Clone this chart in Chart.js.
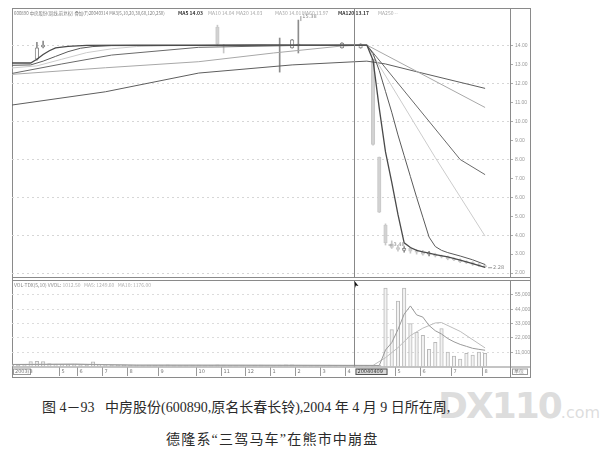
<!DOCTYPE html>
<html>
<head>
<meta charset="utf-8">
<script src="https://cdn.jsdelivr.net/npm/chart.js@4/dist/chart.umd.min.js"></script>
<style>
  body { margin: 0; background: #fff; width: 610px; height: 450px; position: relative; overflow: hidden; font-family: "Noto Sans CJK SC", sans-serif; }
  #frame { position: absolute; left: 12px; top: 8px; width: 519px; height: 370px; border: 1px solid #8a8a8a; box-sizing: border-box; }
  .pane { position: absolute; left: 12px; width: 518px; }
  #pricePane { top: 8px; height: 270px; }
  #volPane { top: 280px; height: 97px; }
  .hd { position: absolute; font-size: 5px; white-space: nowrap; color: #a8a8a8; line-height: 6px; transform-origin: left top; }
  .hd b { color: #333; font-weight: bold; }
  .cap { position: absolute; white-space: nowrap; color: #2a2a2a; font-family: "Liberation Serif", "Noto Sans CJK SC", serif; font-size: 14px; }
  #wm { position: absolute; left: 438px; top: 385px; color: rgba(215,215,215,0.85); font-family: "DejaVu Sans", sans-serif; white-space: nowrap; }
</style>
</head>
<body>
<div id="frame"></div>
<div class="pane" id="pricePane"><canvas id="priceChart"></canvas></div>
<div class="pane" id="volPane"><canvas id="volChart"></canvas></div>

<div class="hd" style="left:14px;top:10px;color:#808080;transform:scaleX(0.88)">600890 中房股份(周线,前复权) 叠加(F)20040314 MA3(5,10,20,30,60,120,250)</div>
<div class="hd" style="left:178px;top:10px"><b>MA5 14.03</b></div>
<div class="hd" style="left:208px;top:10px">MA10 14.04</div>
<div class="hd" style="left:236px;top:10px">MA20 14.03</div>
<div class="hd" style="left:275px;top:10px">MA30 14.01</div>
<div class="hd" style="left:302px;top:10px">MA60 13.97</div>
<div class="hd" style="left:338px;top:10px"><b>MA120 13.17</b></div>
<div class="hd" style="left:378px;top:10px">MA250 --</div>
<div class="hd" style="left:14px;top:282px;color:#888">VOL-TDX(5,10) VVOL: <span style="color:#b0b0b0">1012.50</span> &nbsp; <span style="color:#b0b0b0">MA5: 1249.60</span> &nbsp; <span style="color:#b0b0b0">MA10: 1176.00</span></div>

<div id="wm"><span style="font-size:36px;font-weight:bold;letter-spacing:-2px">DX110</span><span style="font-size:16px">.com</span></div>
<div class="cap" style="left:42px;top:396px">图 4－93&nbsp;&nbsp;&nbsp;中房股份(600890,原名长春长铃),2004 年 4 月 9 日所在周,</div>
<div class="cap" style="left:166px;top:428px;letter-spacing:1.2px">德隆系“三驾马车”在熊市中崩盘</div>

<script>
// ---- data (x = week slot, 0..80) ----
const slotCount = 80;
const cursorIndex = 55;
const cursorLabel = '20040409';
const monthIdx = [0, 8, 11, 15, 19, 24, 30, 34, 38, 42, 46, 50, 54, 62, 66, 71, 76];
const monthText = ['2003/3', '5', '6', '7', '8', '9', '10', '11', '12', '1', '2', '3', '4', '5', '6', '7', '8'];
const priceTicks = [14, 13, 12, 11, 10, 9, 8, 7, 6, 5, 4, 3, 2];
const volTicks = [11000, 22000, 33000, 44000, 55000];

// moving averages as [week, value]
const ma5 = [[0,13.1],[3,13.1],[4,13.3],[5,13.55],[6,13.75],[7,13.9],[9,13.98],[12,14.03],[20,14.05],[30,14.04],[40,14.06],[50,14.05],[57,14.05],[58,13.25],[59,10.7],[60,8.4],[61,6.8],[62,5.1],[63,3.6],[64,3.35],[65,3.2],[66,3.12],[67,3.05],[68,2.97],[70,2.85],[72,2.68],[74,2.5],[76,2.3]];
const ma10 = [[0,12.98],[3,13.0],[5,13.2],[7,13.45],[9,13.7],[11,13.88],[13,13.97],[16,14.02],[57,14.04],[58,13.6],[59,12.7],[60,11.6],[61,10.5],[62,9.3],[63,8.2],[64,7.1],[65,6.0],[66,4.95],[67,3.9],[68,3.4],[69,3.2],[70,3.08],[72,2.9],[74,2.7],[76,2.45]];
const ma20 = [[0,12.84],[4,12.95],[8,13.3],[12,13.65],[16,13.85],[20,13.97],[25,14.02],[57,14.05],[68,8.1],[76,3.95]];
const ma30 = [[0,12.55],[8,13.05],[16,13.52],[30,13.93],[46,14.03],[57,14.05],[72,8.0],[76,7.2]];
const ma60 = [[0,12.5],[15,12.85],[30,13.17],[42,13.63],[53,14.0],[57,14.05],[76,10.75]];
const ma120 = [[0,10.88],[15,11.58],[30,12.57],[45,13.0],[57,13.2],[60,13.05],[65,12.64],[76,11.76]];

// candles: [week, open, high, low, close]
const candles = [
  [4,13.3,14.2,13.25,13.9],[5,13.95,14.26,13.9,14.05],[33,15.0,15.1,14.0,14.1],[34,14.05,14.08,13.63,14.0],
  [43,14.0,14.42,12.62,14.05],[45,13.9,14.35,13.88,14.32],[46,14.0,15.37,13.63,14.1],[53,13.9,14.18,13.88,14.16],
  [56,13.9,14.12,13.88,14.1],[58,13.3,13.3,8.76,8.8],[59,8.13,8.13,5.2,5.22],[60,4.54,4.6,3.48,3.6],
  [61,3.55,3.7,3.3,3.35],[62,3.35,3.45,3.15,3.25],[63,3.2,3.4,3.1,3.3],[64,3.3,3.35,3.05,3.15],[65,3.15,3.25,3.0,3.1],
  [66,3.1,3.2,2.95,3.0],[67,3.0,3.15,2.9,3.05],[68,3.0,3.05,2.85,2.9],[69,2.9,2.95,2.8,2.85],[70,2.85,2.9,2.7,2.75],
  [71,2.75,2.8,2.65,2.7],[72,2.7,2.75,2.55,2.6],[73,2.6,2.65,2.5,2.55],[74,2.55,2.6,2.4,2.45],[75,2.45,2.5,2.35,2.4],[76,2.4,2.45,2.28,2.32]
];
const priceMarks = [[46, 15.37, '15.38'], [60, 3.48, '3.48'], [76, 2.28, '2.28']];

// weekly volume, weeks 0..76
const volume = [
  900,1200,1500,3800,3900,3700,2200,1800,1600,1400,1500,1300,1200,3600,1600,1300,1100,1000,1200,900,
  1000,800,1100,900,1000,1200,800,700,900,1000,1100,800,900,1300,1000,900,800,1000,700,900,
  1000,800,900,1100,1300,1200,1000,900,800,700,900,1000,800,900,900,1000,800,700,600,900,
  60300,28400,50400,60300,33000,26200,23900,13300,18600,29200,11000,8000,5700,10200,8700,11000,10200
];
const volMa5 = [[0,1500],[10,1700],[20,1000],[40,950],[58,800],[59,750],[60,12700],[61,18300],[62,28400],[63,40300],[64,46600],[65,39700],[66,38000],[67,31500],[68,27500],[69,25000],[70,21500],[71,19000],[72,17000],[73,15500],[74,14000],[75,13200],[76,12500]];
const volMa10 = [[0,1600],[10,1900],[20,1100],[40,950],[58,850],[60,6800],[62,14500],[64,23800],[66,29500],[68,33500],[69,33800],[72,27000],[76,14300]];

// ---- charts ----
const pts = arr => arr.map(p => ({x: p[0], y: p[1]}));
const upCol = '#8c8c8c', downCol = '#d2d2d2';

function line(ctx, x1, y1, x2, y2) {
  ctx.beginPath(); ctx.moveTo(x1, y1); ctx.lineTo(x2, y2); ctx.stroke();
}

function maSet(data, color, width) {
  return {type: 'line', data: pts(data), borderColor: color, borderWidth: width,
          pointRadius: 0, tension: 0, order: 0};
}

function fixAxis(s) {
  s.width = 20; s.paddingTop = 0; s.paddingBottom = 0;
}

const priceFrame = {
  id: 'priceFrame',
  afterDraw(chart) {
    const {ctx, chartArea: a, scales: {x, y}} = chart;
    ctx.save();
    ctx.lineWidth = 1;
    ctx.strokeStyle = '#8a8a8a';
    line(ctx, a.right + 0.5, 0, a.right + 0.5, chart.height);
    line(ctx, 0, chart.height - 0.5, chart.width, chart.height - 0.5);
    ctx.strokeStyle = '#888';
    const cx = Math.round(x.getPixelForValue(cursorIndex)) + 0.5;
    line(ctx, cx, 0, cx, chart.height);
    ctx.font = '5px "DejaVu Sans"';
    ctx.fillStyle = '#888';
    ctx.strokeStyle = '#999';
    ctx.textBaseline = 'middle';
    priceMarks.forEach(([w, v, t], k) => {
      const px = x.getPixelForValue(w), py = y.getPixelForValue(v);
      ctx.textAlign = 'left';
      if (k === 0) {
        line(ctx, px + 2.5, py - 4, px + 2.5, py + 1);
        ctx.fillText(t, px + 4, py - 3);
      } else {
        line(ctx, px + 3, py, px + 7, py);
        ctx.fillText(t, px + 8, py);
      }
    });
    ctx.restore();
  }
};

const volFrame = {
  id: 'volFrame',
  afterDraw(chart) {
    const {ctx, chartArea: a, scales: {x}} = chart;
    const bot = chart.height;
    ctx.save();
    ctx.lineWidth = 1;
    ctx.strokeStyle = '#8a8a8a';
    line(ctx, 0, 0.5, chart.width, 0.5);
    line(ctx, a.right + 0.5, 0, a.right + 0.5, bot);
    line(ctx, 0, a.bottom + 0.5, chart.width, a.bottom + 0.5);
    const cx = Math.round(x.getPixelForValue(cursorIndex)) + 0.5;
    ctx.strokeStyle = '#888';
    line(ctx, cx, 0, cx, a.bottom);
    // mouse pointer
    ctx.fillStyle = '#111';
    ctx.beginPath(); ctx.moveTo(cx, 1); ctx.lineTo(cx + 4, 6); ctx.lineTo(cx + 1.5, 5.5); ctx.lineTo(cx + 1, 8); ctx.closePath(); ctx.fill();
    // date strip
    ctx.font = '5px "DejaVu Sans"';
    ctx.textBaseline = 'middle';
    ctx.textAlign = 'left';
    const ty = (a.bottom + bot) / 2;
    ctx.strokeStyle = '#999';
    monthIdx.forEach((m, k) => {
      ctx.fillStyle = '#777';
      if (m === 0) {
        ctx.strokeRect(1.5, a.bottom + 2.5, 17, bot - a.bottom - 5);
        ctx.fillText(monthText[k], 3, ty);
        return;
      }
      const px = Math.round(x.getPixelForValue(m - 0.5)) + 0.5;
      line(ctx, px, a.bottom + 1, px, bot - 1);
      ctx.fillText(monthText[k], px + 2, ty);
    });
    const bx = cx + 1;
    ctx.fillStyle = '#dadada';
    ctx.fillRect(bx, a.bottom + 2, 32, bot - a.bottom - 4);
    ctx.strokeStyle = '#555';
    ctx.strokeRect(bx + 0.5, a.bottom + 2.5, 31, bot - a.bottom - 5);
    ctx.fillStyle = '#333';
    ctx.fillText(cursorLabel, bx + 2, ty);
    ctx.strokeStyle = '#999';
    ctx.strokeRect(a.right + 2.5, a.bottom + 2.5, 15, bot - a.bottom - 5);
    ctx.fillStyle = '#777';
    ctx.fillText('单位', a.right + 4, ty);
    ctx.restore();
  }
};

const bodyData = candles.map(c => ({x: c[0], y: [c[1], c[4]]}));
const wickData = candles.map(c => ({x: c[0], y: [c[3], c[2]]}));
const candleFill = candles.map(c => c[4] >= c[1] ? '#fff' : downCol);
const candleEdge = candles.map(c => c[4] >= c[1] ? upCol : '#c8c8c8');

new Chart(document.getElementById('priceChart'), {
  type: 'bar',
  data: {
    datasets: [
      maSet(ma5, '#4a4a4a', 1.3),
      maSet(ma10, '#5a5a5a', 1),
      maSet(ma20, '#cccccc', 1),
      maSet(ma30, '#6a6a6a', 1),
      maSet(ma60, '#a8a8a8', 1),
      maSet(ma120, '#5e5e5e', 1),
      {type: 'bar', data: wickData, backgroundColor: candleEdge, borderWidth: 0, barThickness: 1, grouped: false, order: 6},
      {type: 'bar', data: bodyData, backgroundColor: candleFill, borderColor: candleEdge, borderWidth: 1,
       borderSkipped: false, barThickness: 3.5, grouped: false, order: 5}
    ]
  },
  options: {
    responsive: true, maintainAspectRatio: false, animation: false,
    layout: {padding: 0, autoPadding: false},
    plugins: {legend: {display: false}, tooltip: {enabled: false}},
    scales: {
      x: {type: 'linear', min: 0, max: slotCount, display: false, offset: false},
      y: {
        position: 'right', min: 1.738, max: 16.008,
        afterBuildTicks: s => { s.ticks = priceTicks.map(v => ({value: v})); },
        afterFit: fixAxis,
        border: {display: false, dash: [2, 3]},
        grid: {color: c => (c.tick && c.tick.value % 2 === 0) ? '#d6d6d6' : 'rgba(0,0,0,0)', tickColor: '#aaa', tickLength: 3},
        ticks: {font: {size: 5}, color: '#999', padding: 2, callback: v => v.toFixed(2)}
      }
    }
  },
  plugins: [priceFrame]
});

new Chart(document.getElementById('volChart'), {
  type: 'bar',
  data: {
    datasets: [
      {type: 'line', data: pts(volMa5), borderColor: '#9a9a9a', borderWidth: 1, pointRadius: 0, order: 0},
      {type: 'line', data: pts(volMa10), borderColor: '#bdbdbd', borderWidth: 1, pointRadius: 0, order: 0},
      {type: 'bar', data: volume.map((v, i) => ({x: i, y: v})), backgroundColor: '#f2f2f2', borderColor: '#b8b8b8',
       borderWidth: 1, barThickness: 3.5, grouped: false, order: 5}
    ]
  },
  options: {
    responsive: true, maintainAspectRatio: false, animation: false,
    layout: {padding: {top: 0, left: 0, right: 0, bottom: 10.5}, autoPadding: false},
    plugins: {legend: {display: false}, tooltip: {enabled: false}},
    scales: {
      x: {type: 'linear', min: 0, max: slotCount, display: false, offset: false},
      y: {
        position: 'right', min: 0, max: 66538,
        afterBuildTicks: s => { s.ticks = volTicks.map(v => ({value: v})); },
        afterFit: fixAxis,
        border: {display: false, dash: [2, 3]},
        grid: {color: '#dcdcdc', tickColor: '#aaa', tickLength: 3},
        ticks: {font: {size: 5}, color: '#999', padding: 2}
      }
    }
  },
  plugins: [volFrame]
});
</script>
</body>
</html>
